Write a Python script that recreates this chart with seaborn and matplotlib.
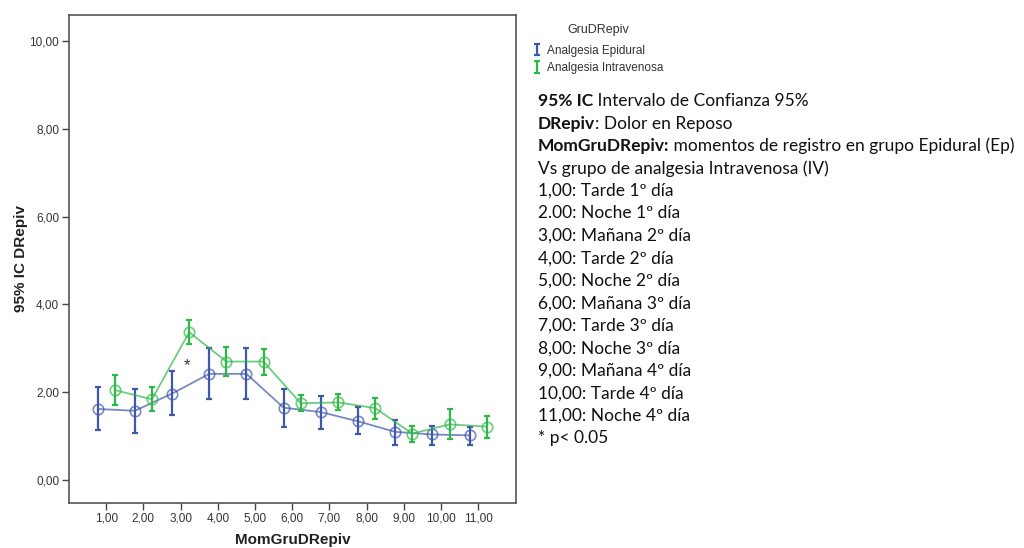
import matplotlib
matplotlib.use("Agg")
import matplotlib.pyplot as plt
import seaborn as sns
import numpy as np
import pandas as pd

# ---- data ----
moments = [1, 2, 3, 4, 5, 6, 7, 8, 9, 10, 11]
epi_mean = [1.62, 1.58, 1.97, 2.42, 2.42, 1.65, 1.55, 1.34, 1.10, 1.04, 1.02]
epi_low  = [1.14, 1.08, 1.48, 1.84, 1.84, 1.22, 1.17, 1.04, 0.81, 0.81, 0.80]
epi_high = [2.11, 2.07, 2.48, 3.02, 3.02, 2.07, 1.92, 1.67, 1.37, 1.24, 1.21]
iv_mean  = [2.05, 1.84, 3.37, 2.70, 2.70, 1.75, 1.77, 1.64, 1.06, 1.27, 1.22]
iv_low   = [1.70, 1.58, 3.11, 2.38, 2.39, 1.58, 1.59, 1.40, 0.88, 0.93, 0.96]
iv_high  = [2.39, 2.11, 3.65, 3.04, 2.98, 1.95, 1.96, 1.86, 1.23, 1.61, 1.45]
groups = ["Analgesia Epidural", "Analgesia Intravenosa"]
y_ticks = [0, 2, 4, 6, 8, 10]
sig_moment = 3

notes = [
    [("95% IC", True), (" Intervalo de Confianza 95%", False)],
    [("DRepiv", True), (": Dolor en Reposo", False)],
    [("MomGruDRepiv:", True), (" momentos de registro en grupo Epidural (Ep)", False)],
    [("Vs grupo de analgesia Intravenosa (IV)", False)],
    [("1,00: Tarde 1º día", False)],
    [("2.00: Noche 1º día", False)],
    [("3,00: Mañana 2º día", False)],
    [("4,00: Tarde 2º día", False)],
    [("5,00: Noche 2º día", False)],
    [("6,00: Mañana 3º día", False)],
    [("7,00: Tarde 3º día", False)],
    [("8,00: Noche 3º día", False)],
    [("9,00: Mañana 4º día", False)],
    [("10,00: Tarde 4º día", False)],
    [("11,00: Noche 4º día", False)],
    [("* p< 0.05", False)],
]

colors = {"Analgesia Epidural": "#3E58AC", "Analgesia Intravenosa": "#2EB848"}
dodge = 0.23

sns.set_theme(style="white")
plt.rcParams["font.family"] = ["Liberation Sans", "DejaVu Sans"]

fig = plt.figure(figsize=(10.24, 5.48), dpi=100)
ax = fig.add_axes([0.0674, 0.0821, 0.4366, 0.8914])

series = [
    (groups[0], epi_mean, epi_low, epi_high, -dodge),
    (groups[1], iv_mean, iv_low, iv_high, +dodge),
]
handles = []
for name, m, lo, hi, off in series:
    df = pd.DataFrame({"x": np.array(moments) + off, "y": m})
    c = colors[name]
    sns.lineplot(data=df, x="x", y="y", ax=ax, color=c, alpha=0.7, lw=1.3,
                 marker="o", markersize=7.5, markerfacecolor="none",
                 markeredgecolor=c, markeredgewidth=1.2, legend=False)
    yerr = np.vstack([np.array(m) - np.array(lo), np.array(hi) - np.array(m)])
    h = ax.errorbar(np.array(moments) + off, m, yerr=yerr, fmt="none",
                    ecolor=c, elinewidth=1.6, capsize=2.2, capthick=1.6)
    handles.append(h)

ax.text(sig_moment + 0.18, iv_mean[sig_moment - 1] - 0.76, "*", ha="center",
        va="center", fontsize=12, color="#333333")

ax.set_xlim(0, 12.02)
ax.set_ylim(-0.52, 10.6)
ax.set_xticks(moments)
ax.set_xticklabels([f"{v:.2f}".replace(".", ",") for v in moments])
ax.set_yticks(y_ticks)
ax.set_yticklabels([f"{v:.2f}".replace(".", ",") for v in y_ticks])
ax.tick_params(axis="both", which="both", direction="out", length=5, width=1,
               color="#444444", labelsize=8.5, labelcolor="#333333", pad=2,
               left=True, bottom=True)
for s in ax.spines.values():
    s.set_color("#555555")
    s.set_linewidth(1.2)
ax.set_xlabel("MomGruDRepiv", fontsize=11, fontweight="bold", color="#222222", labelpad=6)
ax.set_ylabel("95% IC DRepiv", fontsize=11, fontweight="bold", color="#222222", labelpad=1)

leg = fig.legend(handles, groups, loc="upper left", bbox_to_anchor=(0.511, 0.975),
                 frameon=False, title="GruDRepiv", fontsize=8.5, title_fontsize=9,
                 handlelength=0.5, handletextpad=0.6, labelspacing=0.45)
leg._legend_box.sep = 6
for t in leg.get_texts():
    t.set_color("#333333")
leg.get_title().set_color("#333333")

# ---- notes block ----
note_family = ["Lato", "DejaVu Sans"]
x0 = 538 / 1024
y_top = 548 - 101
for i, line in enumerate(notes):
    yy = (y_top - i * 22.5) / 548
    last = None
    for txt, bold in line:
        kw = dict(fontsize=12.5, family=note_family, color="#111111",
                  fontweight="bold" if bold else "normal", va="center", ha="left")
        if last is None:
            last = fig.text(x0, yy, txt, **kw)
        else:
            last = ax.annotate(txt, xy=(1, 0.5), xycoords=last, xytext=(0, 0),
                               textcoords="offset points", annotation_clip=False, **kw)

fig.savefig("out.png", dpi=100)
